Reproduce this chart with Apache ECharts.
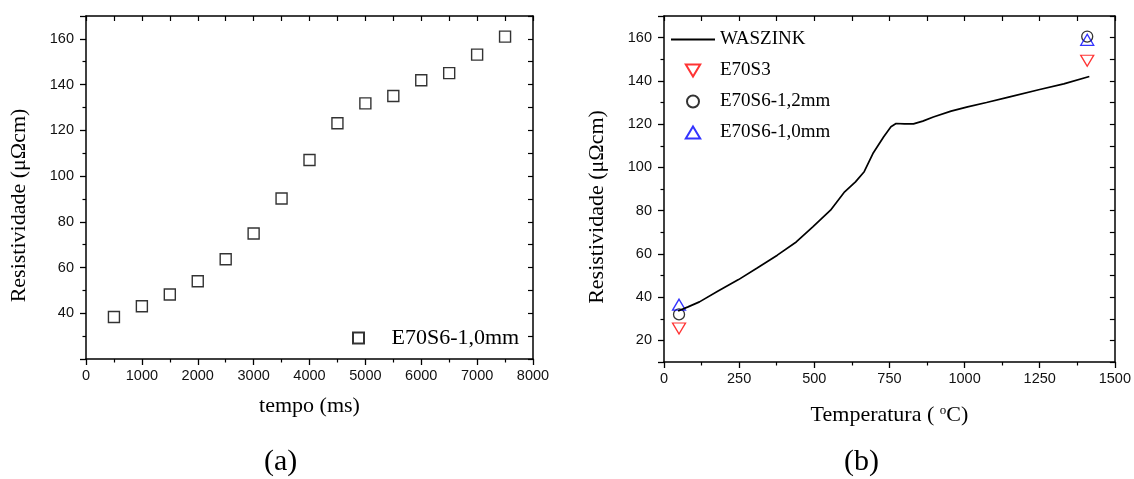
<!DOCTYPE html>
<html><head><meta charset="utf-8">
<script src="https://cdn.jsdelivr.net/npm/echarts@6/dist/echarts.min.js"></script>
<style>html,body{margin:0;padding:0;background:#fff}#c{width:1134px;height:479px}</style>
</head><body><div id="c"></div>
<script>
// (a) resistivity vs time
const tempoMs = [500, 1000, 1500, 2000, 2500, 3000, 3500, 4000, 4500, 5000, 5500, 6000, 6500, 7000, 7500];
const resistA = [38.4, 43.1, 48.2, 54, 63.6, 74.9, 90.2, 107, 123.1, 131.8, 135, 141.9, 145, 153.1, 161];
// (b) resistivity vs temperature
const waszinkT = [47, 80, 118, 180, 248, 310, 377, 440, 495, 554, 601, 637, 666, 695, 731, 755, 772, 800, 830, 861, 896, 955, 1010, 1073, 1150, 1250, 1330, 1415];
const waszinkR = [33.6, 35.5, 37.8, 42.8, 48.1, 53.5, 59.4, 65.5, 72.5, 80.2, 88.7, 93.3, 98, 106.4, 114.2, 118.8, 120.3, 120.1, 120.1, 121.4, 123.3, 126, 128, 130, 132.6, 136, 138.6, 142];
const e70s3T = [50, 1408];
const e70s3R = [25.5, 149.3];
const e70s6_12T = [50, 1408];
const e70s6_12R = [32, 160.5];
const e70s6_10T = [50, 1408];
const e70s6_10R = [36.5, 159];

const serif = "'Liberation Serif', 'Times New Roman', serif";
const sans = "'Liberation Sans', Arial, sans-serif";
const zip = (a, b) => a.map((v, i) => [v, b[i]]);
const plain = v => String(v);

const lineStyle = { color: '#000', width: 1.5 };

function mainX(gi, min, max, interval, name, nameGap, nameTextStyle) {
  return {
    type: 'value', gridIndex: gi, position: 'bottom', min, max, interval,
    axisLine: { show: true, onZero: false, lineStyle },
    axisTick: { show: true, inside: false, length: 6, lineStyle: { color: '#000', width: 1.3 } },
    minorTick: { show: true, splitNumber: 2, length: 3.5, lineStyle: { color: '#000', width: 1.2 } },
    splitLine: { show: false },
    axisLabel: { color: '#111', fontFamily: sans, fontSize: 14.5, margin: 9, formatter: plain },
    name, nameLocation: 'middle', nameGap,
    nameTextStyle: Object.assign({ color: '#000', fontFamily: serif, fontSize: 22 }, nameTextStyle || {})
  };
}
function mirrorX(gi, min, max, interval) {
  return {
    type: 'value', gridIndex: gi, position: 'top', min, max, interval,
    axisLine: { show: true, onZero: false, lineStyle },
    axisTick: { show: true, inside: true, length: 5, lineStyle: { color: '#000', width: 1.2 } },
    axisLabel: { show: false }, splitLine: { show: false }
  };
}
function mainY(gi, extra) {
  return Object.assign({
    type: 'value', gridIndex: gi, position: 'left',
    axisLine: { show: true, onZero: false, lineStyle },
    axisTick: { show: true, inside: false, length: 6, lineStyle: { color: '#000', width: 1.3 } },
    minorTick: { show: true, splitNumber: 2, length: 3.5, lineStyle: { color: '#000', width: 1.2 } },
    splitLine: { show: false },
    axisLabel: { color: '#111', fontFamily: sans, fontSize: 14.5, margin: 12, showMinLabel: false, showMaxLabel: false, formatter: plain },
    name: 'Resistividade (μΩcm)', nameLocation: 'middle', nameGap: 56,
    nameTextStyle: { color: '#000', fontFamily: serif, fontSize: 22, padding: [0, 36, 0, 0] }
  }, extra);
}
function mirrorY(gi, min, max, interval) {
  return {
    type: 'value', gridIndex: gi, position: 'right', min, max, interval,
    axisLine: { show: true, onZero: false, lineStyle },
    axisTick: { show: true, inside: true, length: 5, lineStyle: { color: '#000', width: 1.2 } },
    axisLabel: { show: false }, splitLine: { show: false }
  };
}

const ICON_SQUARE = 'path://M0,0H10V10H0Z';
const ICON_TRI_DOWN = 'path://M0,0L12,0L6,10Z';
const ICON_TRI_UP = 'path://M6,0L12,10L0,10Z';
const ICON_CIRCLE = 'path://M0,5A5,5 0 1,1 10,5A5,5 0 1,1 0,5Z';

const option = {
  animation: false,
  backgroundColor: '#fff',
  grid: [
    { left: 86, right: 601, top: 16, bottom: 120, containLabel: false },
    { left: 664, right: 19, top: 16, bottom: 117, containLabel: false }
  ],
  xAxis: [
    mainX(0, 0, 8000, 1000, 'tempo (ms)', 36),
    mirrorX(0, 0, 8000, 500),
    mainX(1, 0, 1500, 250, 'Temperatura ( {sup|o}C)', 42, {
      rich: { sup: { fontFamily: serif, fontSize: 13, color: '#000', verticalAlign: 'top', padding: [0, 0, 9, 0] } }
    }),
    mirrorX(1, 0, 1500, 125)
  ],
  yAxis: [
    mainY(0, { min: 20, max: 170, interval: 20 }),
    mirrorY(0, 20, 170, 10),
    mainY(1, { min: 10, max: 170, splitNumber: 8, minInterval: 20, maxInterval: 20 }),
    mirrorY(1, 10, 170, 10)
  ],
  legend: [
    {
      data: [{ name: 'E70S6-1,0mm (a)', icon: ICON_SQUARE }], orient: 'vertical', left: 347, top: 322,
      itemWidth: 56, itemHeight: 11, symbolKeepAspect: true,
      formatter: n => n.replace(' (a)', ''),
      textStyle: { fontFamily: serif, fontSize: 22, color: '#000' }
    },
    {
      data: [
        { name: 'WASZINK', itemStyle: { opacity: 0 } },
        { name: 'E70S3', icon: ICON_TRI_DOWN },
        { name: 'E70S6-1,2mm', icon: ICON_CIRCLE },
        { name: 'E70S6-1,0mm', icon: ICON_TRI_UP }
      ],
      orient: 'vertical', left: 665, top: 25,
      itemWidth: 44, itemHeight: 12, itemGap: 12, symbolKeepAspect: true,
      textStyle: { fontFamily: serif, fontSize: 19, color: '#000' }
    }
  ],
  graphic: [
    { type: 'text', left: 264, top: 447, style: { text: '(a)', font: "30px 'Liberation Serif'", fill: '#000' } },
    { type: 'text', left: 844, top: 447, style: { text: '(b)', font: "30px 'Liberation Serif'", fill: '#000' } }
  ],
  series: [
    {
      name: 'E70S6-1,0mm (a)', type: 'scatter', xAxisIndex: 0, yAxisIndex: 0,
      symbol: 'rect', symbolSize: 11,
      itemStyle: { color: 'transparent', borderColor: '#000', borderWidth: 1.4 },
      data: zip(tempoMs, resistA)
    },
    {
      name: 'WASZINK', type: 'line', xAxisIndex: 2, yAxisIndex: 2,
      symbol: 'none', showSymbol: false, smooth: false,
      lineStyle: { color: '#000', width: 1.7 }, itemStyle: { color: '#000' },
      data: zip(waszinkT, waszinkR)
    },
    {
      name: 'E70S3', type: 'scatter', xAxisIndex: 2, yAxisIndex: 2,
      symbol: 'triangle', symbolRotate: 180, symbolSize: [13, 11],
      itemStyle: { color: 'transparent', borderColor: '#ff0000', borderWidth: 1.3 },
      data: zip(e70s3T, e70s3R)
    },
    {
      name: 'E70S6-1,2mm', type: 'scatter', xAxisIndex: 2, yAxisIndex: 2,
      symbol: 'circle', symbolSize: 11,
      itemStyle: { color: 'transparent', borderColor: '#000', borderWidth: 1.3 },
      data: zip(e70s6_12T, e70s6_12R)
    },
    {
      name: 'E70S6-1,0mm', type: 'scatter', xAxisIndex: 2, yAxisIndex: 2,
      symbol: 'triangle', symbolSize: [13, 11],
      itemStyle: { color: 'transparent', borderColor: '#0000ff', borderWidth: 1.3 },
      data: zip(e70s6_10T, e70s6_10R)
    }
  ]
};
const chart = echarts.init(document.getElementById('c'), null, { renderer: 'canvas' });
chart.setOption(option);
</script>
</body></html>
